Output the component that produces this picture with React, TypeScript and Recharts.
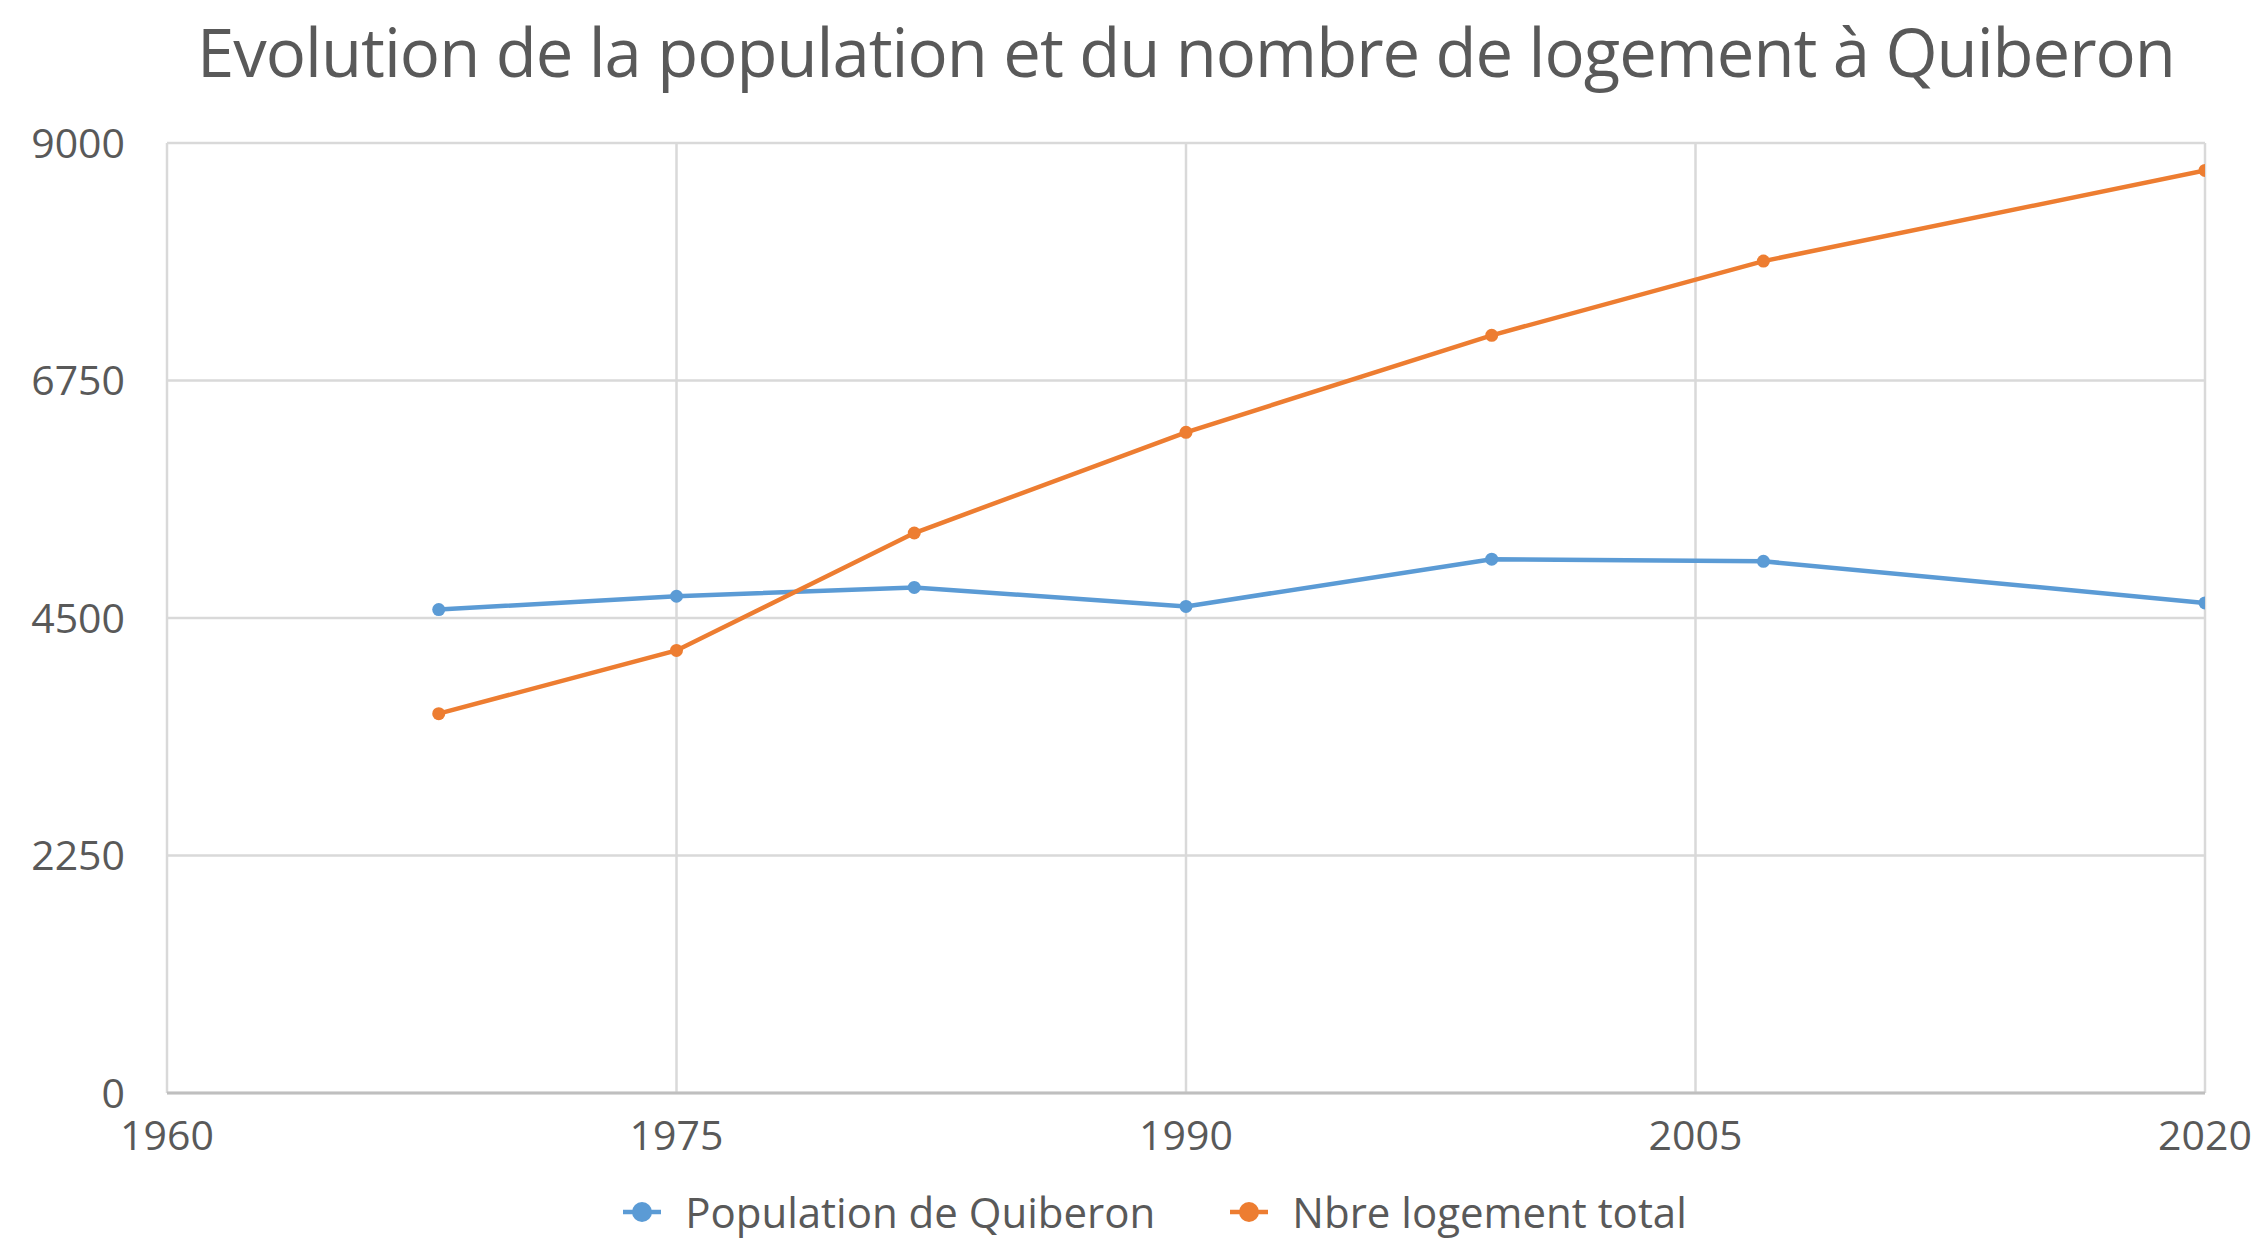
import { LineChart, Line, XAxis, YAxis, CartesianGrid } from "recharts";

const years = [1968, 1975, 1982, 1990, 1999, 2007, 2020];
const population = [4580, 4706, 4790, 4610, 5057, 5037, 4643];
const logements = [3594, 4193, 5305, 6259, 7178, 7881, 8740];
const xTicks = [1960, 1975, 1990, 2005, 2020];
const yTicks = [0, 2250, 4500, 6750, 9000];

const BLUE = "#5B9BD5";
const ORANGE = "#ED7D31";
const TEXT = "#595959";
const FONT = "'Open Sans', sans-serif";

const data = years.map((year, i) => ({
    year,
    population: population[i],
    logements: logements[i],
}));

const series = [
    { key: "population", name: "Population de Quiberon", color: BLUE },
    { key: "logements", name: "Nbre logement total", color: ORANGE },
];

export default function App() {
    return (
        <div style={{ position: "absolute", left: 0, top: 0, width: 2264, height: 1243, background: "#fff", overflow: "hidden" }}>
            <div
                style={{
                    position: "absolute",
                    top: 5,
                    left: 54,
                    width: 2264,
                    textAlign: "center",
                    fontFamily: FONT,
                    fontSize: 67,
                    color: TEXT,
                    letterSpacing: -1,
                    whiteSpace: "nowrap",
                }}
            >
                Evolution de la population et du nombre de logement à Quiberon
            </div>
            <LineChart
                width={2264}
                height={1243}
                data={data}
                margin={{ top: 143, right: 59, left: 47, bottom: 80 }}
            >
                <CartesianGrid stroke="#D9D9D9" strokeWidth={2.5} />
                <XAxis
                    dataKey="year"
                    type="number"
                    domain={[1960, 2020]}
                    ticks={xTicks}
                    allowDataOverflow
                    stroke="#BFBFBF"
                    strokeWidth={3}
                    tickLine={false}
                    tickMargin={22}
                    height={70}
                    tick={{ fill: TEXT, fontSize: 41, fontFamily: FONT }}
                />
                <YAxis
                    domain={[0, 9000]}
                    ticks={yTicks}
                    axisLine={false}
                    tickLine={false}
                    width={120}
                    tickMargin={36}
                    tick={{ fill: TEXT, fontSize: 41, fontFamily: FONT }}
                />
                {series.map((s) => (
                    <Line
                        key={s.key}
                        dataKey={s.key}
                        name={s.name}
                        stroke={s.color}
                        strokeWidth={4.5}
                        dot={{ r: 6.5, fill: s.color, stroke: s.color, strokeWidth: 0 }}
                        isAnimationActive={false}
                    />
                ))}
            </LineChart>
            <div
                style={{
                    position: "absolute",
                    top: 1188,
                    left: 0,
                    width: 2264,
                    paddingLeft: 46,
                    boxSizing: "border-box",
                    display: "flex",
                    justifyContent: "center",
                    gap: 75,
                    fontFamily: FONT,
                }}
            >
                {series.map((s) => (
                    <div key={s.key} style={{ display: "flex", alignItems: "center", gap: 24 }}>
                        <svg width={38} height={22}>
                            <line x1={0} y1={11} x2={38} y2={11} stroke={s.color} strokeWidth={4.5} />
                            <circle cx={19} cy={11} r={10} fill={s.color} />
                        </svg>
                        <span style={{ fontSize: 42, color: TEXT, lineHeight: "48px" }}>{s.name}</span>
                    </div>
                ))}
            </div>
        </div>
    );
}
